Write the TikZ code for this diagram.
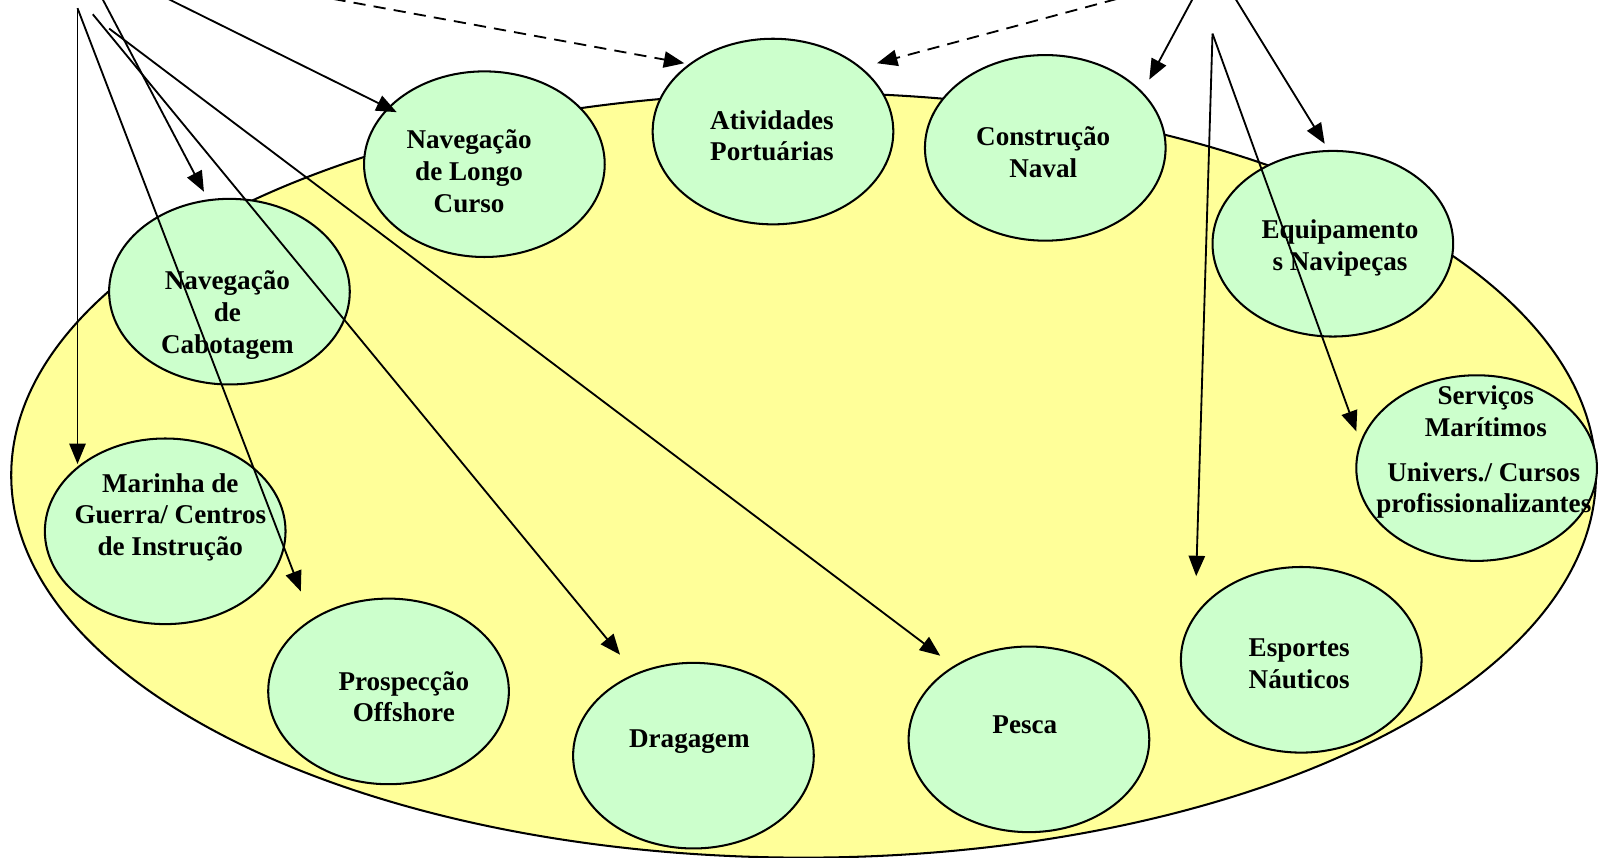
\documentclass[tikz,border=0pt]{standalone}
\usepackage{fontspec}
\setmainfont{Liberation Serif}
\usetikzlibrary{arrows.meta,shapes.geometric}
\definecolor{seayellow}{HTML}{FFFF99}
\definecolor{sectgreen}{HTML}{CCFFCC}
\tikzset{
  sea/.style={ellipse,draw=black,line width=1pt,fill=seayellow,minimum width=777pt,minimum height=375pt,inner sep=0pt},
  sector/.style={ellipse,draw=black,line width=1pt,fill=sectgreen,minimum width=118pt,minimum height=91pt,inner sep=0pt},
  lbl/.style={align=center,font=\fontsize{13.3}{15.5}\selectfont\bfseries,inner sep=0pt},
  link/.style={line width=0.9pt,-{Triangle[length=10pt,width=8pt]}},
  dlink/.style={link,dash pattern=on 6pt off 4pt}
}
\begin{document}
\begin{tikzpicture}[x=0.5pt,y=-0.5pt]
\useasboundingbox (0,0) rectangle (1568,841);
\node[sea] (mar) at (788,466) {};
% sectors
\node[sector] (lc) at (475,161) {};
\node[sector] (ap) at (758,129) {};
\node[sector] (cn) at (1025,145) {};
\node[sector] (eq) at (1307,239) {};
\node[sector] (sm) at (1448,459) {};
\node[sector] (en) at (1276,647) {};
\node[sector] (pe) at (1009,725) {};
\node[sector] (dr) at (680,741) {};
\node[sector] (po) at (381,678) {};
\node[sector] (mg) at (162,521) {};
\node[sector] (nc) at (225,286) {};
% labels
\node[lbl] (tlc) at (460,168) {Navegação\\de Longo\\Curso};
\node[lbl] (tap) at (757,133) {Atividades\\Portuárias};
\node[lbl] (tcn) at (1023,149) {Construção\\Naval};
\node[lbl] (teq) at (1314,243) {Equipamento\\s Navipeças};
\node[lbl] (tsm1) at (1457,403) {Serviços\\Marítimos};
\node[lbl] (tsm2) at (1455,481) {Univers./ Cursos\\profissionalizantes};
\node[lbl] (ten) at (1274,651) {Esportes\\Náuticos};
\node[lbl] (tpe) at (1005,711) {Pesca};
\node[lbl] (tdr) at (676,727) {Dragagem};
\node[lbl] (tpo) at (396,683) {Prospecção\\Offshore};
\node[lbl] (tmg) at (167,507) {Marinha de\\Guerra/ Centros\\de Instrução};
\node[lbl] (tnc) at (223,309) {Navegação\\de\\Cabotagem};
% connector ends
\coordinate (s1) at (76,8);
\coordinate (s2) at (100,-2);
\coordinate (s3) at (91,14);
\coordinate (s4) at (107,28);
\coordinate (s5) at (163,-2);
\coordinate (s6) at (327,-1);
\coordinate (s7) at (1095,-1);
\coordinate (s8) at (1170,-2);
\coordinate (s9) at (1211,-2);
\coordinate (s10) at (1189,33);
\coordinate (emg) at (76,455);
\coordinate (epo) at (295,580);
\coordinate (enc) at (200,188);
\coordinate (edr) at (608,642);
\coordinate (epe) at (922,643);
\coordinate (elc) at (389,110);
\coordinate (eap1) at (671,62);
\coordinate (eap2) at (860,62);
\coordinate (ecn) at (1127,78);
\coordinate (eeq) at (1299,141);
\coordinate (een) at (1173,565);
\coordinate (esm) at (1330,423);
% connectors
\draw[link] (s1) -- (emg);
\draw[link] (s1) -- (epo);
\draw[link] (s2) -- (enc);
\draw[link] (s3) -- (edr);
\draw[link] (s4) -- (epe);
\draw[link] (s5) -- (elc);
\draw[dlink] (s6) -- (eap1);
\draw[dlink] (s7) -- (eap2);
\draw[link] (s8) -- (ecn);
\draw[link] (s9) -- (eeq);
\draw[link] (s10) -- (een);
\draw[link] (s10) -- (esm);
\end{tikzpicture}
\end{document}
